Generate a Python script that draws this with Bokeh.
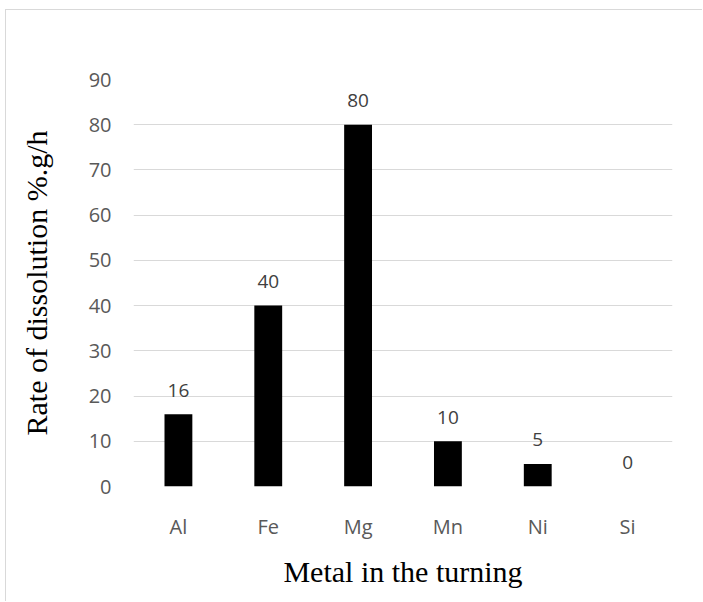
from bokeh.plotting import figure
from bokeh.models import ColumnDataSource, LabelSet, Range1d, FixedTicker
from bokeh.core.properties import value
from bokeh.embed import file_html
from bokeh.resources import INLINE

metals = ["Al", "Fe", "Mg", "Mn", "Ni", "Si"]
rates = [16, 40, 80, 10, 5, 0]
y_ticks = [0, 10, 20, 30, 40, 50, 60, 70, 80, 90]

src = ColumnDataSource(dict(metal=metals, rate=rates, lbl=[str(v) for v in rates]))

p = figure(x_range=metals, width=697, height=592, output_backend="svg",
           toolbar_location=None, min_border_left=127, min_border_right=31,
           min_border_top=69, min_border_bottom=116)
p.margin = (9, 0, 0, 5)
p.stylesheets = [":host { border-left: 1px solid #d9d9d9; border-top: 1px solid #d9d9d9; }"]
p.y_range = Range1d(0, 90)
p.outline_line_color = None
p.background_fill_color = "white"
p.border_fill_color = "white"

p.vbar(x="metal", top="rate", width=0.31, source=src, fill_color="black", line_color=None)

labels = LabelSet(x="metal", y="rate", text="lbl", source=src, y_offset=24,
                  text_align="center", text_baseline="middle",
                  text_font=value("Open Sans"), text_font_size="19px", text_color="#404040")
p.add_layout(labels)

p.xgrid.visible = False
p.ygrid.grid_line_color = "#d9d9d9"
p.ygrid.grid_line_width = 1
p.yaxis.ticker = FixedTicker(ticks=y_ticks)

for ax in (p.xaxis[0], p.yaxis[0]):
    ax.axis_line_color = None
    ax.major_tick_line_color = None
    ax.minor_tick_line_color = None
    ax.major_tick_out = 0
    ax.major_tick_in = 0
    ax.minor_tick_out = 0
    ax.minor_tick_in = 0
    ax.major_label_text_font = "Open Sans"
    ax.major_label_text_font_size = "20px"
    ax.major_label_text_color = "#595959"
    ax.axis_label_text_font = "Liberation Serif"
    ax.axis_label_text_font_size = "30px"
    ax.axis_label_text_font_style = "normal"
    ax.axis_label_text_color = "black"

p.yaxis.axis_label = "Rate of dissolution %.g/h"
p.xaxis.axis_label = "Metal in the turning"
p.yaxis.major_label_standoff = 22
p.yaxis.axis_label_standoff = 33
p.xaxis.major_label_standoff = 26
p.xaxis.axis_label_standoff = 12

open("out.html", "w").write(file_html(p, INLINE))
